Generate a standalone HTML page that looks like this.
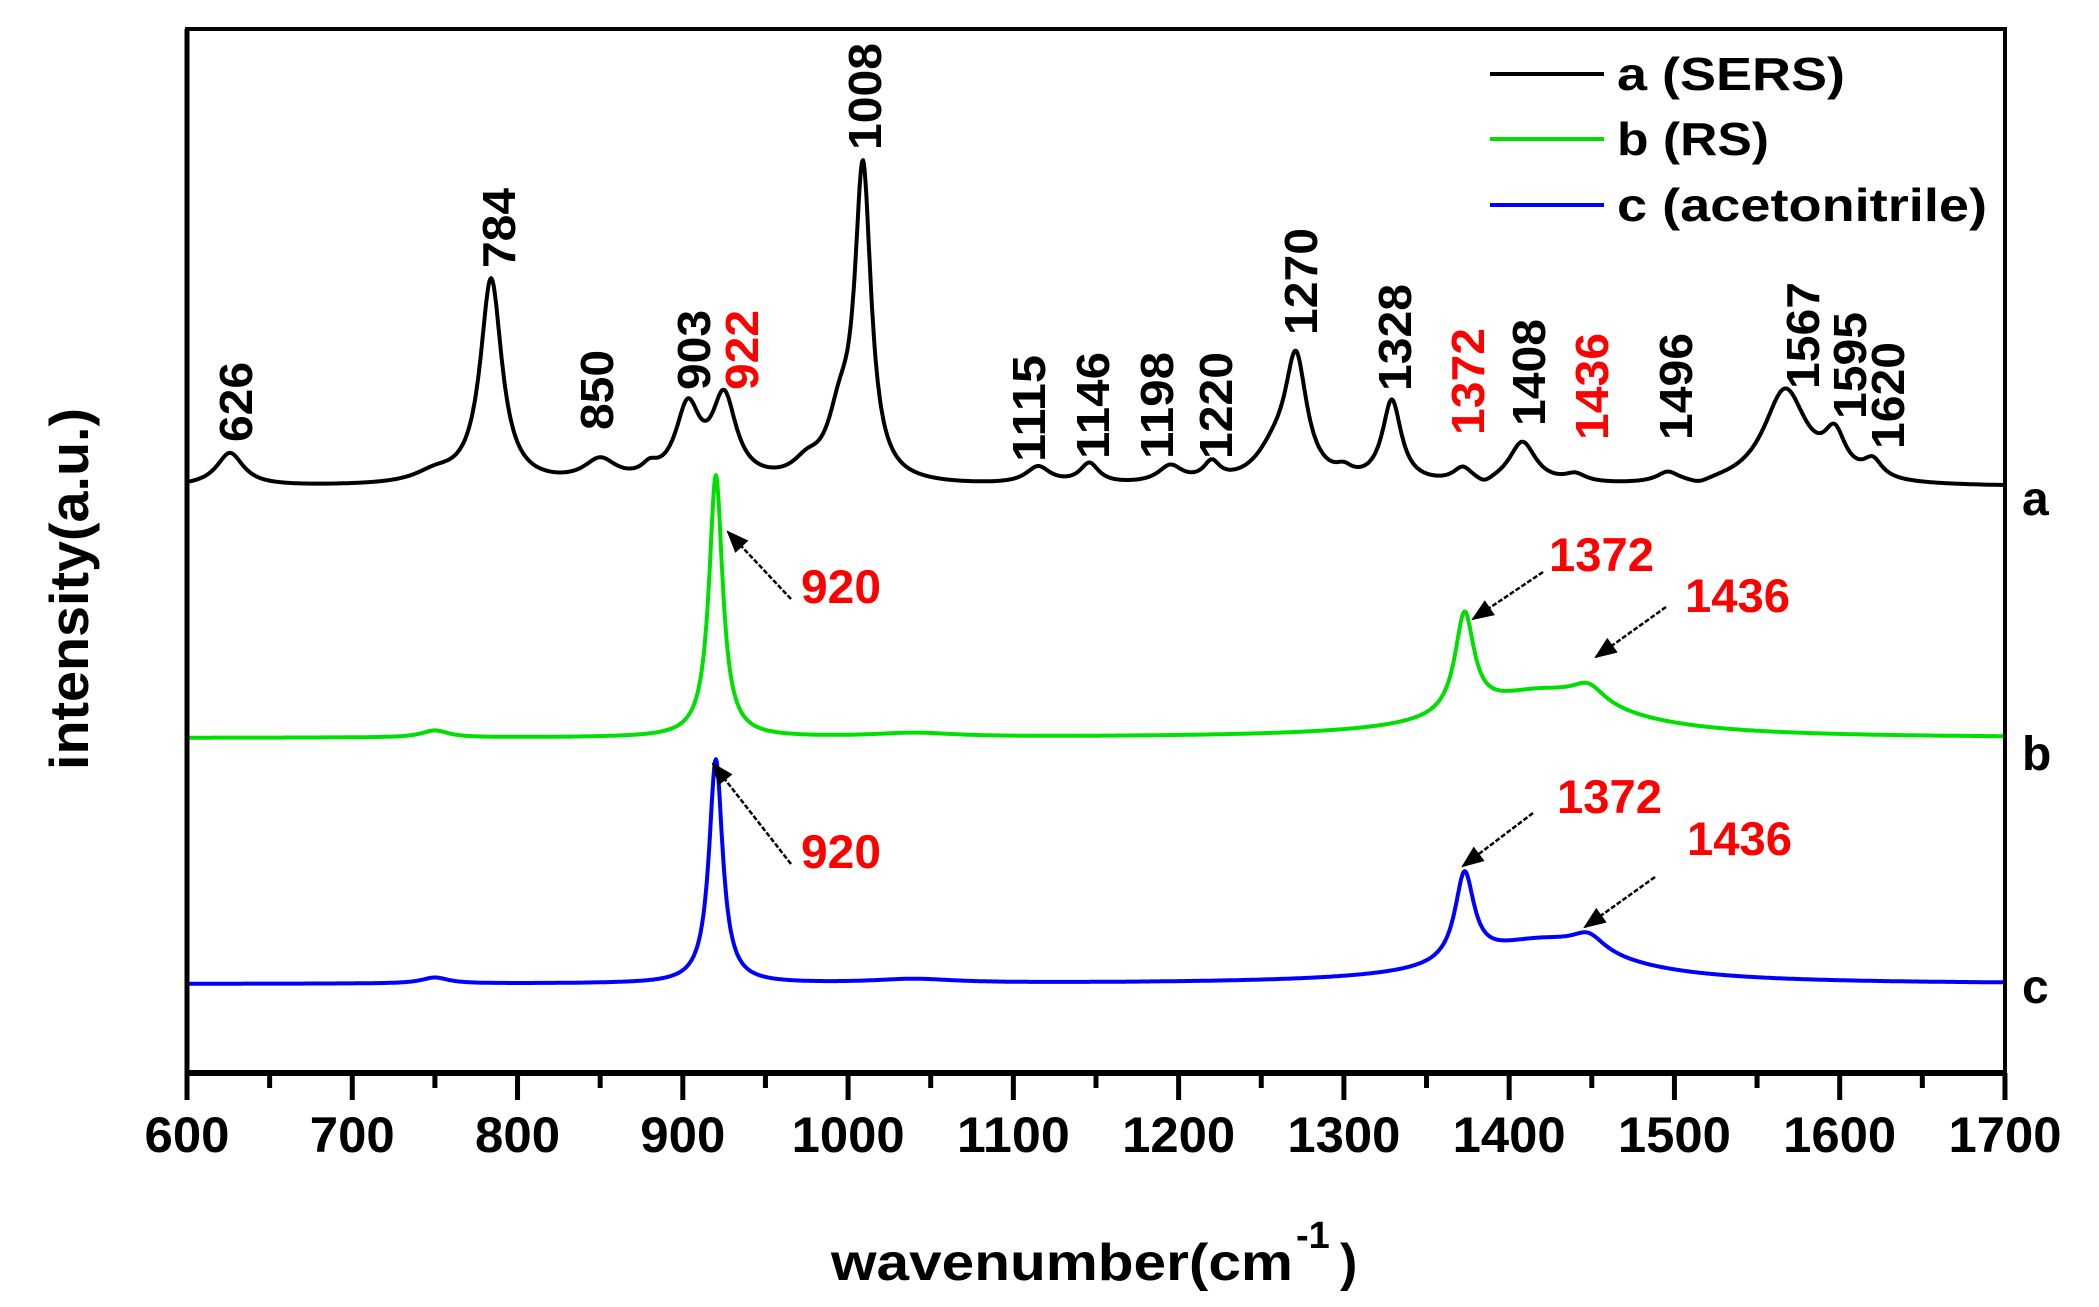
<!DOCTYPE html>
<html><head><meta charset="utf-8"><style>
html,body{margin:0;padding:0;background:#fff;}
svg{display:block;font-family:"Liberation Sans",Arial,sans-serif;font-weight:bold;}
</style></head><body>
<svg id="s" width="2099" height="1307" viewBox="0 0 2099 1307" xmlns="http://www.w3.org/2000/svg">
<defs><marker id="ah" viewBox="0 0 10 10" refX="9" refY="5" markerWidth="11" markerHeight="9" markerUnits="strokeWidth" orient="auto"><path d="M0,1 L10,5 L0,9 z" fill="#000"/></marker></defs>
<g id="curves" fill="none" stroke-width="4" stroke-linejoin="round"></g>
<rect x="187" y="29" width="1818" height="1044" fill="none" stroke="#000" stroke-width="4"/>
<line x1="185" y1="1073" x2="2007" y2="1073" stroke="#000" stroke-width="6"/>
<line x1="187" y1="29" x2="187" y2="1075" stroke="#000" stroke-width="5"/>
<g id="ticks" stroke="#000" stroke-width="5"></g>
<g id="tl" font-size="50" text-anchor="middle"></g>
<text x="831" y="1280" font-size="52" textLength="462" lengthAdjust="spacingAndGlyphs">wavenumber(cm</text>
<text x="1296" y="1248" font-size="38">-1</text>
<text x="1340" y="1280" font-size="52">)</text>
<text transform="translate(88,589) rotate(-90)" font-size="55" text-anchor="middle" textLength="362" lengthAdjust="spacingAndGlyphs">intensity(a.u.)</text>
<g font-size="48">
<text x="2022" y="515">a</text><text x="2022" y="770">b</text><text x="2022" y="1003">c</text>
</g>
<g stroke-width="4">
<line x1="1490" y1="74" x2="1604" y2="74" stroke="#000"/>
<line x1="1490" y1="139" x2="1604" y2="139" stroke="#00e000"/>
<line x1="1490" y1="205" x2="1604" y2="205" stroke="#0000ff"/>
</g>
<g font-size="46">
<text x="1617" y="90" textLength="228" lengthAdjust="spacingAndGlyphs">a (SERS)</text>
<text x="1617" y="155" textLength="152" lengthAdjust="spacingAndGlyphs">b (RS)</text>
<text x="1617" y="221" textLength="370" lengthAdjust="spacingAndGlyphs">c (acetonitrile)</text>
</g>
<g id="pl" font-size="46"></g>
<g fill="#f00" font-size="47">
<text x="801" y="603" textLength="80" lengthAdjust="spacingAndGlyphs">920</text>
<text x="1549" y="571" textLength="105" lengthAdjust="spacingAndGlyphs">1372</text>
<text x="1685" y="612" textLength="105" lengthAdjust="spacingAndGlyphs">1436</text>
<text x="801" y="868" textLength="80" lengthAdjust="spacingAndGlyphs">920</text>
<text x="1557" y="813" textLength="105" lengthAdjust="spacingAndGlyphs">1372</text>
<text x="1687" y="855" textLength="105" lengthAdjust="spacingAndGlyphs">1436</text>
</g>
<g stroke="#000" stroke-width="2.5" stroke-dasharray="5,2" marker-end="url(#ah)">
<line x1="791" y1="599" x2="728" y2="532"/>
<line x1="1543" y1="572" x2="1473" y2="619"/>
<line x1="1666" y1="607" x2="1596" y2="657"/>
<line x1="791" y1="864" x2="713" y2="764"/>
<line x1="1533" y1="813" x2="1463" y2="866"/>
<line x1="1655" y1="877" x2="1585" y2="927"/>
</g>
</svg>
<script>
var NS="http://www.w3.org/2000/svg";
function X(w){return 187+(w-600)*1.6527;}
function L(x,c,w){var d=(x-c)/w;return 1/(1+d*d);}
function mk(base,pk,col){
  var d="";
  for(var w=600;w<=1700;w+=0.5){
    var y=base(w);
    for(var i=0;i<pk.length;i++)y-=pk[i][1]*L(w,pk[i][0],pk[i][2]);
    d+=(w==600?"M":"L")+X(w).toFixed(1)+","+y.toFixed(1);
  }
  var p=document.createElementNS(NS,"path");p.setAttribute("d",d);p.setAttribute("stroke",col);
  document.getElementById("curves").appendChild(p);
}
mk(function(w){return 487;},[[626,33,10],[750,10,15],[784,205,8],[850,22,12],[880,10,6],[903,72,9],[925,82,9],[975,15,10],[995,55,9],[1009,307,6],[1115,17,9],[1146,20,7],[1195,17,9],[1220,18,6],[1258,28,14],[1271,118,8],[1300,8,6],[1329,82,7],[1372,14,7],[1408,42,10],[1440,8,8],[1496,10,8],[1567,95,16],[1597,40,8],[1620,18,7],[1385,-6,6],[1515,-5,8]],"#000");
mk(function(w){return 738;},[[750,7,10],[920,262,5],[1040,4,30],[1373,100,7],[1420,45,55],[1448,18,12]],"#00e000");
mk(function(w){return 984;},[[750,6,10],[920,224,5],[1040,4,30],[1373,88,7],[1420,42,55],[1448,17,12]],"#0000ff");
var t=document.getElementById("ticks"),tl=document.getElementById("tl");
for(var w=600;w<=1700;w+=50){
  var l=document.createElementNS(NS,"line");var x=X(w);
  l.setAttribute("x1",x);l.setAttribute("x2",x);l.setAttribute("y1",1073);l.setAttribute("y2",w%100==0?1100:1088);t.appendChild(l);
  if(w%100==0){var tx=document.createElementNS(NS,"text");tx.setAttribute("x",x);tx.setAttribute("y",1152);
    tx.setAttribute("textLength",w>=1000?113:85);tx.setAttribute("lengthAdjust","spacingAndGlyphs");tx.textContent=w;tl.appendChild(tx);}
}
var labs=[["626",235,442,0],["784",498,268,0],["850",596,430,0],["903",693,390,0],["922",741,390,1],["1008",864,150,0],["1115",1028,462,0],["1146",1092,459,0],["1198",1156,459,0],["1220",1215,459,0],["1270",1300,335,0],["1328",1394,391,0],["1372",1467,435,1],["1408",1528,426,0],["1436",1591,440,1],["1496",1675,440,0],["1567",1802,389,0],["1595",1849,419,0],["1620",1887,449,0]];
var pl=document.getElementById("pl");
labs.forEach(function(a){var tx=document.createElementNS(NS,"text");
  tx.setAttribute("transform","translate("+(a[1]+17)+","+a[2]+") rotate(-90)");
  tx.setAttribute("textLength",a[0].length==4?107:80);tx.setAttribute("lengthAdjust","spacingAndGlyphs");
  if(a[3])tx.setAttribute("fill","#f00");tx.textContent=a[0];pl.appendChild(tx);});
</script>
</body></html>
